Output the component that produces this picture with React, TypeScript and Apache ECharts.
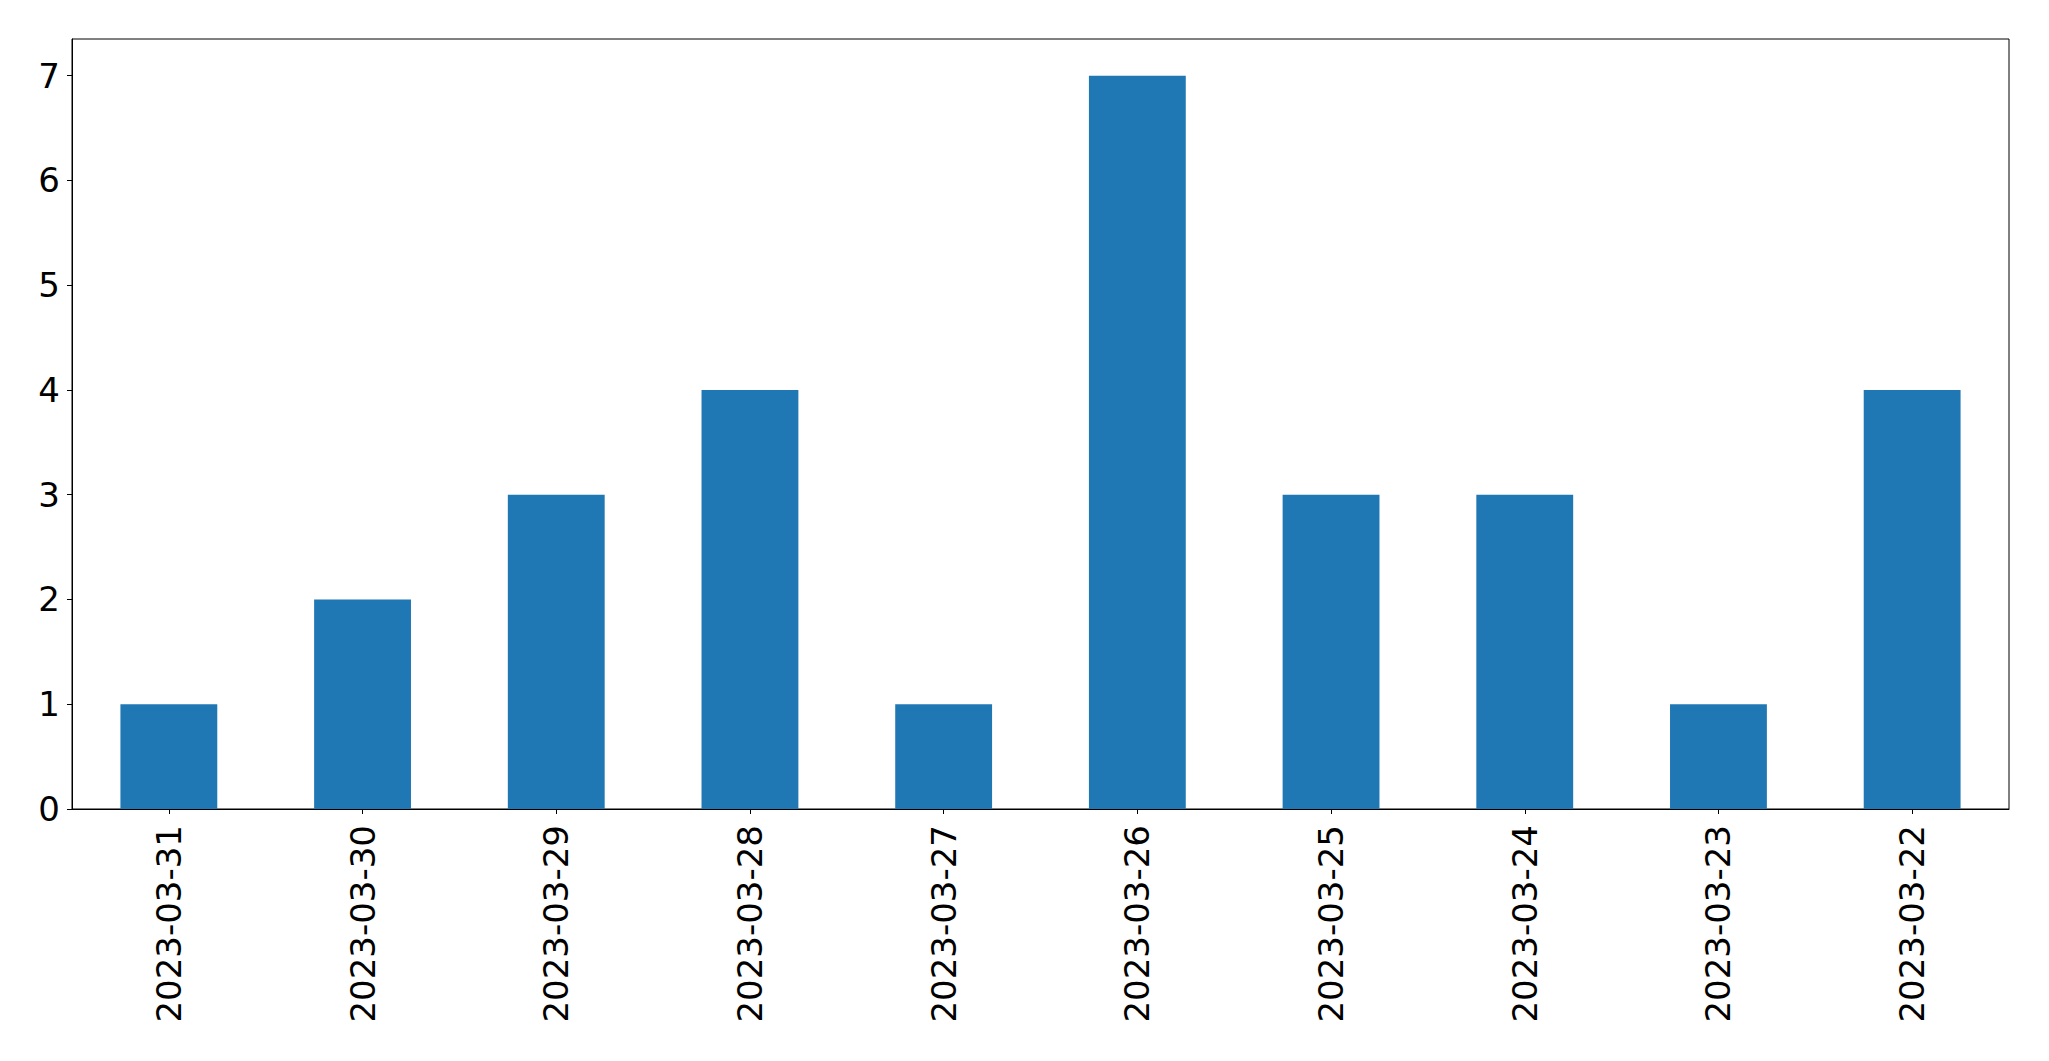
import React, { useEffect, useRef } from "react";
import * as echarts from "echarts";

const categories = [
  "2023-03-31",
  "2023-03-30",
  "2023-03-29",
  "2023-03-28",
  "2023-03-27",
  "2023-03-26",
  "2023-03-25",
  "2023-03-24",
  "2023-03-23",
  "2023-03-22",
];
const counts = [1, 2, 3, 4, 1, 7, 3, 3, 1, 4];
const yTickMin = 0;
const yTickMax = 7;
const yTickStep = 1;
const yAxisTop = 7.35;

const W = 2049;
const H = 1061;
const LEFT = 72;
const RIGHT = W - 2009;
const TOP = 39;
const BOTTOM = H - 809;
const FONT = "DejaVu Sans";

export default function App() {
  const ref = useRef<HTMLDivElement>(null);
  useEffect(() => {
    if (!ref.current) return;
    const chart = echarts.init(ref.current, undefined, { renderer: "svg" });
    const plotH = H - TOP - BOTTOM;
    const top2 = TOP + (plotH * (yAxisTop - yTickMax)) / yAxisTop;
    chart.setOption({
      animation: false,
      backgroundColor: "#fff",
      grid: [
        {
          left: LEFT,
          right: RIGHT,
          top: TOP,
          bottom: BOTTOM,
          show: true,
          borderColor: "#000",
          borderWidth: 1,
          backgroundColor: "transparent",
        },
        {
          left: LEFT,
          right: RIGHT,
          top: top2,
          bottom: BOTTOM,
          show: false,
        },
      ],
      xAxis: [
        {
          type: "category",
          gridIndex: 0,
          data: categories,
          boundaryGap: true,
          axisLine: { show: true, lineStyle: { color: "#000", width: 1 } },
          axisTick: {
            show: true,
            alignWithLabel: true,
            length: 5,
            lineStyle: { color: "#000", width: 1 },
          },
          axisLabel: {
            rotate: 90,
            fontSize: 34,
            fontFamily: FONT,
            color: "#000",
            margin: 16,
            interval: 0,
          },
          splitLine: { show: false },
        },
        {
          type: "value",
          gridIndex: 1,
          min: 0,
          max: 1,
          show: false,
        },
      ],
      yAxis: [
        {
          type: "value",
          gridIndex: 0,
          min: 0,
          max: yAxisTop,
          axisLine: { show: true, lineStyle: { color: "#000", width: 1 } },
          axisTick: { show: false },
          axisLabel: { show: false },
          splitLine: { show: false },
        },
        {
          type: "value",
          gridIndex: 1,
          min: yTickMin,
          max: yTickMax,
          interval: yTickStep,
          axisLine: { show: false },
          axisTick: {
            show: true,
            length: 5,
            lineStyle: { color: "#000", width: 1 },
          },
          axisLabel: {
            fontSize: 34,
            fontFamily: FONT,
            color: "#000",
            margin: 12,
          },
          splitLine: { show: false },
        },
      ],
      series: [
        {
          type: "bar",
          xAxisIndex: 0,
          yAxisIndex: 0,
          data: counts,
          barWidth: "50%",
          itemStyle: { color: "#1f77b4" },
        },
      ],
    });
    return () => chart.dispose();
  }, []);
  return (
    <div
      ref={ref}
      style={{ position: "fixed", left: 0, top: 0, width: W, height: H }}
    />
  );
}
